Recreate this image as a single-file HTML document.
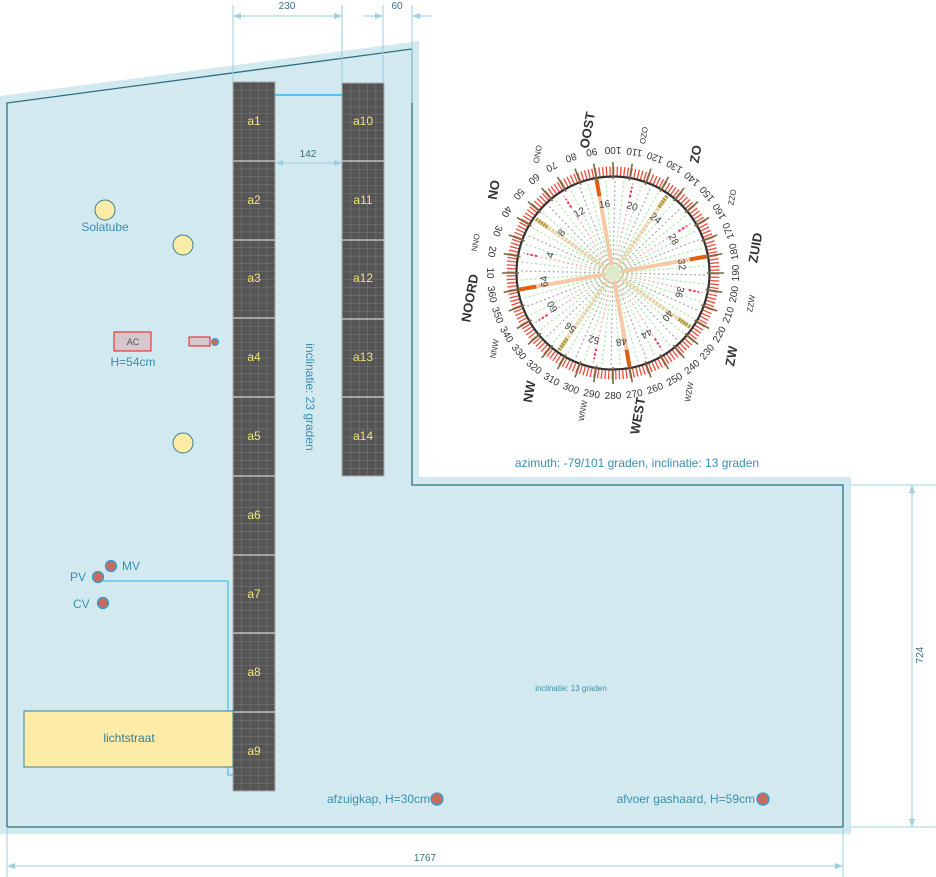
<!DOCTYPE html>
<html><head><meta charset="utf-8"><style>
html,body{margin:0;padding:0;background:#fff;}
svg{display:block;font-family:"Liberation Sans",sans-serif;}
</style></head><body>
<svg width="936" height="877" viewBox="0 0 936 877" xmlns="http://www.w3.org/2000/svg">
<defs>
<pattern id="g1" x="233" y="82" width="8.4" height="7.88" patternUnits="userSpaceOnUse">
<rect width="8.4" height="7.88" fill="#555"/><path d="M0 0H8.4M0 0V7.88" stroke="#7a7a7a" stroke-width="1"/></pattern>
<pattern id="g2" x="342" y="83" width="8.4" height="7.86" patternUnits="userSpaceOnUse">
<rect width="8.4" height="7.86" fill="#555"/><path d="M0 0H8.4M0 0V7.86" stroke="#7a7a7a" stroke-width="1"/></pattern>
</defs>
<polygon points="0,96 419,41 419,477 851,477 851,834 0,834" fill="#d2eaef"/>
<polygon points="7,103 412,49 412,485 843,485 843,827 7,827" fill="none" stroke="#2d6f80" stroke-width="1.3"/>
<g stroke="#9ad0df" stroke-width="1" fill="none">
<line x1="233" y1="5" x2="233" y2="82"/><line x1="342" y1="5" x2="342" y2="83"/>
<line x1="383" y1="5" x2="383" y2="83"/><line x1="412" y1="5" x2="412" y2="103"/>
<line x1="233" y1="16" x2="342" y2="16"/><line x1="363" y1="16" x2="383" y2="16"/><line x1="412" y1="16" x2="432" y2="16"/>
<line x1="275" y1="163" x2="342" y2="163"/>
<line x1="7" y1="827" x2="7" y2="877"/><line x1="843" y1="827" x2="843" y2="877"/>
<line x1="7" y1="866" x2="843" y2="866"/>
<line x1="851" y1="485" x2="936" y2="485"/><line x1="851" y1="827" x2="936" y2="827"/>
<line x1="912" y1="485" x2="912" y2="827"/>
</g>
<g fill="#9ad0df">
<polygon points="233,16 241,13 241,19"/><polygon points="342,16 334,13 334,19"/>
<polygon points="383,16 375,13 375,19"/><polygon points="412,16 420,13 420,19"/>
<polygon points="275,163 283,160 283,166"/><polygon points="342,163 334,160 334,166"/>
<polygon points="7,866 15,863 15,869"/><polygon points="843,866 835,863 835,869"/>
<polygon points="912,485 909,493 915,493"/><polygon points="912,827 909,819 915,819"/>
</g>
<g fill="#3a6f80" font-size="10" text-anchor="middle">
<text x="287" y="9">230</text><text x="397" y="9">60</text><text x="308" y="157">142</text>
<text x="425" y="861">1767</text>
<text transform="translate(923,655) rotate(-90)">724</text>
</g>
<rect x="233" y="82" width="42" height="709" fill="url(#g1)" stroke="#aaa" stroke-width="1"/>
<rect x="342" y="83" width="42" height="393" fill="url(#g2)" stroke="#aaa" stroke-width="1"/>
<g stroke="#bbb" stroke-width="1.5">
<line x1="233" y1="161" x2="275" y2="161"/><line x1="233" y1="240" x2="275" y2="240"/><line x1="233" y1="318" x2="275" y2="318"/><line x1="233" y1="397" x2="275" y2="397"/><line x1="233" y1="476" x2="275" y2="476"/><line x1="233" y1="555" x2="275" y2="555"/><line x1="233" y1="633" x2="275" y2="633"/><line x1="233" y1="712" x2="275" y2="712"/>
<line x1="342" y1="161" x2="384" y2="161"/><line x1="342" y1="240" x2="384" y2="240"/><line x1="342" y1="319" x2="384" y2="319"/><line x1="342" y1="397" x2="384" y2="397"/>
</g>
<g fill="#f2e27a" font-size="12" text-anchor="middle">
<text x="254" y="125">a1</text><text x="254" y="204">a2</text><text x="254" y="282">a3</text><text x="254" y="361">a4</text><text x="254" y="440">a5</text><text x="254" y="519">a6</text><text x="254" y="598">a7</text><text x="254" y="676">a8</text><text x="254" y="755">a9</text>
<text x="363" y="125">a10</text><text x="363" y="204">a11</text><text x="363" y="282">a12</text><text x="363" y="361">a13</text><text x="363" y="440">a14</text>
</g>
<polyline points="275,95 342,95" stroke="#2cb5e8" stroke-width="1.5" fill="none"/>
<polyline points="98,581 228,581 228,775 233,775" stroke="#2cb5e8" stroke-width="1" fill="none"/>
<g fill="#fdeba8" stroke="#3b7f8f" stroke-width="1">
<circle cx="105" cy="210" r="10"/><circle cx="183" cy="245" r="10"/><circle cx="183" cy="443" r="10"/>
<rect x="24" y="711" width="209" height="56"/>
</g>
<rect x="114" y="332" width="37" height="19" fill="#d5c7cc" stroke="#e41a1a" stroke-width="1"/>
<rect x="189" y="337" width="21" height="9" fill="#d5c7cc" stroke="#e41a1a" stroke-width="1"/>
<circle cx="215" cy="342" r="3.5" fill="#c96a5e" stroke="#2d9fd6" stroke-width="1"/>
<g fill="#c96a5e" stroke="#2d9fd6" stroke-width="1.3">
<circle cx="111" cy="566" r="5.5"/><circle cx="98" cy="577" r="5.5"/><circle cx="103" cy="603" r="5.5"/>
<circle cx="437" cy="799" r="6"/><circle cx="763" cy="799" r="6"/>
</g>
<g fill="#3a8fb0" font-size="12">
<text x="105" y="231" text-anchor="middle">Solatube</text>
<text x="133" y="366" text-anchor="middle">H=54cm</text>
<text x="122" y="570">MV</text><text x="70" y="581">PV</text><text x="73" y="608">CV</text>
<text x="430" y="803" text-anchor="end">afzuigkap, H=30cm</text>
<text x="755" y="803" text-anchor="end">afvoer gashaard, H=59cm</text>
<text x="637" y="467" text-anchor="middle">azimuth: -79/101 graden, inclinatie: 13 graden</text>
<text transform="translate(306,397) rotate(90)" text-anchor="middle">inclinatie: 23 graden</text>
</g>
<text x="133" y="345" font-size="9" fill="#555" text-anchor="middle">AC</text>
<text x="129" y="742" font-size="12" fill="#3a7f90" text-anchor="middle">lichtstraat</text>
<text x="571" y="691" font-size="8" fill="#3a8fb0" text-anchor="middle">inclinatie: 13 graden</text>
<g transform="translate(613,273) rotate(-100)">
<g stroke-width="1.2" stroke-dasharray="2 2.5" fill="none">
<g stroke="#aaa">
<line y2="-92" transform="rotate(11.25)"/><line y2="-92" transform="rotate(33.75)"/><line y2="-92" transform="rotate(56.25)"/><line y2="-92" transform="rotate(78.75)"/><line y2="-92" transform="rotate(101.25)"/><line y2="-92" transform="rotate(123.75)"/><line y2="-92" transform="rotate(146.25)"/><line y2="-92" transform="rotate(168.75)"/><line y2="-92" transform="rotate(191.25)"/><line y2="-92" transform="rotate(213.75)"/><line y2="-92" transform="rotate(236.25)"/><line y2="-92" transform="rotate(258.75)"/><line y2="-92" transform="rotate(281.25)"/><line y2="-92" transform="rotate(303.75)"/><line y2="-92" transform="rotate(326.25)"/><line y2="-92" transform="rotate(348.75)"/>
</g>
<g stroke="#a6e8a0">
<line y2="-92" transform="rotate(5.625)"/><line y2="-92" transform="rotate(16.875)"/><line y2="-92" transform="rotate(28.125)"/><line y2="-92" transform="rotate(39.375)"/><line y2="-92" transform="rotate(50.625)"/><line y2="-92" transform="rotate(61.875)"/><line y2="-92" transform="rotate(73.125)"/><line y2="-92" transform="rotate(84.375)"/><line y2="-92" transform="rotate(95.625)"/><line y2="-92" transform="rotate(106.875)"/><line y2="-92" transform="rotate(118.125)"/><line y2="-92" transform="rotate(129.375)"/><line y2="-92" transform="rotate(140.625)"/><line y2="-92" transform="rotate(151.875)"/><line y2="-92" transform="rotate(163.125)"/><line y2="-92" transform="rotate(174.375)"/><line y2="-92" transform="rotate(185.625)"/><line y2="-92" transform="rotate(196.875)"/><line y2="-92" transform="rotate(208.125)"/><line y2="-92" transform="rotate(219.375)"/><line y2="-92" transform="rotate(230.625)"/><line y2="-92" transform="rotate(241.875)"/><line y2="-92" transform="rotate(253.125)"/><line y2="-92" transform="rotate(264.375)"/><line y2="-92" transform="rotate(275.625)"/><line y2="-92" transform="rotate(286.875)"/><line y2="-92" transform="rotate(298.125)"/><line y2="-92" transform="rotate(309.375)"/><line y2="-92" transform="rotate(320.625)"/><line y2="-92" transform="rotate(331.875)"/><line y2="-92" transform="rotate(343.125)"/><line y2="-92" transform="rotate(354.375)"/>
</g>
<g stroke="#f4a0a8">
<line y2="-92" transform="rotate(22.5)"/><line y2="-92" transform="rotate(67.5)"/><line y2="-92" transform="rotate(112.5)"/><line y2="-92" transform="rotate(157.5)"/><line y2="-92" transform="rotate(202.5)"/><line y2="-92" transform="rotate(247.5)"/><line y2="-92" transform="rotate(292.5)"/><line y2="-92" transform="rotate(337.5)"/>
</g>
<g stroke="#e8223a" stroke-width="2">
<line y1="-78" y2="-88" transform="rotate(22.5)"/><line y1="-78" y2="-88" transform="rotate(67.5)"/><line y1="-78" y2="-88" transform="rotate(112.5)"/><line y1="-78" y2="-88" transform="rotate(157.5)"/><line y1="-78" y2="-88" transform="rotate(202.5)"/><line y1="-78" y2="-88" transform="rotate(247.5)"/><line y1="-78" y2="-88" transform="rotate(292.5)"/><line y1="-78" y2="-88" transform="rotate(337.5)"/>
</g>
</g>
<g stroke="#f6c9a6" stroke-width="4">
<line y2="-94" transform="rotate(0)"/><line y2="-94" transform="rotate(90)"/><line y2="-94" transform="rotate(180)"/><line y2="-94" transform="rotate(270)"/>
</g>
<g stroke="#e6d3a8" stroke-width="4" stroke-dasharray="3 1">
<line y2="-94" transform="rotate(45)"/><line y2="-94" transform="rotate(135)"/><line y2="-94" transform="rotate(225)"/><line y2="-94" transform="rotate(315)"/>
</g>
<g stroke="#e06010" stroke-width="4">
<line y1="-78" y2="-95" transform="rotate(0)"/><line y1="-78" y2="-95" transform="rotate(90)"/><line y1="-78" y2="-95" transform="rotate(180)"/><line y1="-78" y2="-95" transform="rotate(270)"/>
</g>
<g stroke="#b09838" stroke-width="4" stroke-dasharray="2 1">
<line y1="-80" y2="-95" transform="rotate(45)"/><line y1="-80" y2="-95" transform="rotate(135)"/><line y1="-80" y2="-95" transform="rotate(225)"/><line y1="-80" y2="-95" transform="rotate(315)"/>
</g>
<circle r="8" fill="#d8f0d0" opacity="0.8"/>
<circle r="102" fill="none" stroke="#f04a3a" stroke-width="9" stroke-dasharray="1.3 2.26"/>
<circle r="96.5" fill="none" stroke="#333" stroke-width="2.2"/>
<g stroke="#7a6a40" stroke-width="1.6">
<line y1="-94" y2="-111" transform="rotate(0)"/><line y1="-94" y2="-111" transform="rotate(10)"/><line y1="-94" y2="-111" transform="rotate(20)"/><line y1="-94" y2="-111" transform="rotate(30)"/><line y1="-94" y2="-111" transform="rotate(40)"/><line y1="-94" y2="-111" transform="rotate(50)"/><line y1="-94" y2="-111" transform="rotate(60)"/><line y1="-94" y2="-111" transform="rotate(70)"/><line y1="-94" y2="-111" transform="rotate(80)"/><line y1="-94" y2="-111" transform="rotate(90)"/><line y1="-94" y2="-111" transform="rotate(100)"/><line y1="-94" y2="-111" transform="rotate(110)"/><line y1="-94" y2="-111" transform="rotate(120)"/><line y1="-94" y2="-111" transform="rotate(130)"/><line y1="-94" y2="-111" transform="rotate(140)"/><line y1="-94" y2="-111" transform="rotate(150)"/><line y1="-94" y2="-111" transform="rotate(160)"/><line y1="-94" y2="-111" transform="rotate(170)"/><line y1="-94" y2="-111" transform="rotate(180)"/><line y1="-94" y2="-111" transform="rotate(190)"/><line y1="-94" y2="-111" transform="rotate(200)"/><line y1="-94" y2="-111" transform="rotate(210)"/><line y1="-94" y2="-111" transform="rotate(220)"/><line y1="-94" y2="-111" transform="rotate(230)"/><line y1="-94" y2="-111" transform="rotate(240)"/><line y1="-94" y2="-111" transform="rotate(250)"/><line y1="-94" y2="-111" transform="rotate(260)"/><line y1="-94" y2="-111" transform="rotate(270)"/><line y1="-94" y2="-111" transform="rotate(280)"/><line y1="-94" y2="-111" transform="rotate(290)"/><line y1="-94" y2="-111" transform="rotate(300)"/><line y1="-94" y2="-111" transform="rotate(310)"/><line y1="-94" y2="-111" transform="rotate(320)"/><line y1="-94" y2="-111" transform="rotate(330)"/><line y1="-94" y2="-111" transform="rotate(340)"/><line y1="-94" y2="-111" transform="rotate(350)"/>
</g>
<g font-size="10" fill="#333" text-anchor="middle">
<text transform="rotate(0) translate(0,-126) rotate(180)">360</text><text transform="rotate(10) translate(0,-126) rotate(180)">10</text><text transform="rotate(20) translate(0,-126) rotate(180)">20</text><text transform="rotate(30) translate(0,-126) rotate(180)">30</text><text transform="rotate(40) translate(0,-126) rotate(180)">40</text><text transform="rotate(50) translate(0,-126) rotate(180)">50</text><text transform="rotate(60) translate(0,-126) rotate(180)">60</text><text transform="rotate(70) translate(0,-126) rotate(180)">70</text><text transform="rotate(80) translate(0,-126) rotate(180)">80</text><text transform="rotate(90) translate(0,-126) rotate(180)">90</text><text transform="rotate(100) translate(0,-126) rotate(180)">100</text><text transform="rotate(110) translate(0,-126) rotate(180)">110</text><text transform="rotate(120) translate(0,-126) rotate(180)">120</text><text transform="rotate(130) translate(0,-126) rotate(180)">130</text><text transform="rotate(140) translate(0,-126) rotate(180)">140</text><text transform="rotate(150) translate(0,-126) rotate(180)">150</text><text transform="rotate(160) translate(0,-126) rotate(180)">160</text><text transform="rotate(170) translate(0,-126) rotate(180)">170</text><text transform="rotate(180) translate(0,-126) rotate(180)">180</text><text transform="rotate(190) translate(0,-126) rotate(180)">190</text><text transform="rotate(200) translate(0,-126) rotate(180)">200</text><text transform="rotate(210) translate(0,-126) rotate(180)">210</text><text transform="rotate(220) translate(0,-126) rotate(180)">220</text><text transform="rotate(230) translate(0,-126) rotate(180)">230</text><text transform="rotate(240) translate(0,-126) rotate(180)">240</text><text transform="rotate(250) translate(0,-126) rotate(180)">250</text><text transform="rotate(260) translate(0,-126) rotate(180)">260</text><text transform="rotate(270) translate(0,-126) rotate(180)">270</text><text transform="rotate(280) translate(0,-126) rotate(180)">280</text><text transform="rotate(290) translate(0,-126) rotate(180)">290</text><text transform="rotate(300) translate(0,-126) rotate(180)">300</text><text transform="rotate(310) translate(0,-126) rotate(180)">310</text><text transform="rotate(320) translate(0,-126) rotate(180)">320</text><text transform="rotate(330) translate(0,-126) rotate(180)">330</text><text transform="rotate(340) translate(0,-126) rotate(180)">340</text><text transform="rotate(350) translate(0,-126) rotate(180)">350</text>
</g>
<g font-size="10" fill="#444" text-anchor="middle">
<text transform="rotate(26) translate(0,-62)">4</text><text transform="rotate(48) translate(0,-62)">8</text><text transform="rotate(71) translate(0,-66)">12</text><text transform="rotate(93) translate(0,-66)">16</text><text transform="rotate(116) translate(0,-66)">20</text><text transform="rotate(138) translate(0,-66)">24</text><text transform="rotate(161) translate(0,-66)">28</text><text transform="rotate(183) translate(0,-66)">32</text><text transform="rotate(206) translate(0,-66)">36</text><text transform="rotate(228) translate(0,-66)">40</text><text transform="rotate(251) translate(0,-66)">44</text><text transform="rotate(273) translate(0,-66)">48</text><text transform="rotate(296) translate(0,-66)">52</text><text transform="rotate(318) translate(0,-66)">56</text><text transform="rotate(341) translate(0,-66)">60</text><text transform="rotate(3) translate(0,-66)">64</text>
</g>
<g font-size="13" font-weight="bold" fill="#333" text-anchor="middle">
<text transform="rotate(0) translate(0,-145) rotate(20)" dy="4">NOORD</text>
<text transform="rotate(45) translate(0,-145) rotate(-25)" dy="4">NO</text>
<text transform="rotate(90) translate(0,-145) rotate(-70)" dy="4">OOST</text>
<text transform="rotate(135) translate(0,-145) rotate(-115)" dy="4">ZO</text>
<text transform="rotate(180) translate(0,-145) rotate(-160)" dy="4">ZUID</text>
<text transform="rotate(225) translate(0,-145) rotate(-205)" dy="4">ZW</text>
<text transform="rotate(270) translate(0,-145) rotate(-250)" dy="4">WEST</text>
<text transform="rotate(315) translate(0,-145) rotate(-295)" dy="4">NW</text>
</g>
<g font-size="8" fill="#333" text-anchor="middle">
<text transform="rotate(22.5) translate(0,-141) rotate(-2.5)" dy="3">NNO</text>
<text transform="rotate(67.5) translate(0,-141) rotate(-47.5)" dy="3">ONO</text>
<text transform="rotate(112.5) translate(0,-141) rotate(-92.5)" dy="3">OZO</text>
<text transform="rotate(157.5) translate(0,-141) rotate(-137.5)" dy="3">ZZO</text>
<text transform="rotate(202.5) translate(0,-141) rotate(-182.5)" dy="3">ZZW</text>
<text transform="rotate(247.5) translate(0,-141) rotate(-227.5)" dy="3">WZW</text>
<text transform="rotate(292.5) translate(0,-141) rotate(-272.5)" dy="3">WNW</text>
<text transform="rotate(337.5) translate(0,-141) rotate(-317.5)" dy="3">NNW</text>
</g>
</g>
</svg>
</body></html>
